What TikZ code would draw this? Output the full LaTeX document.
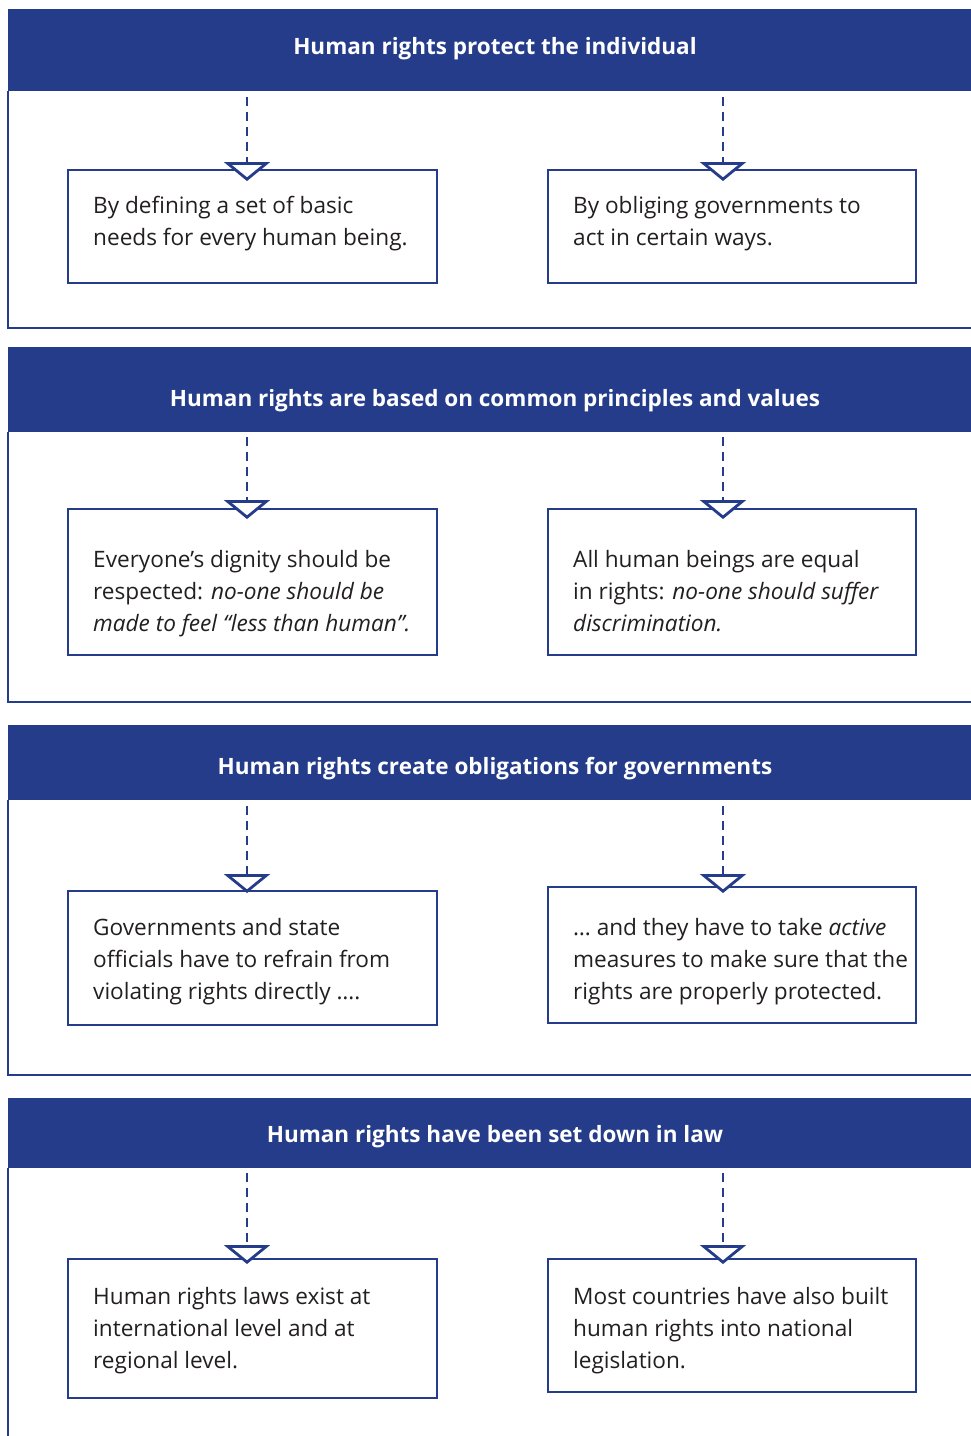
\documentclass[tikz,border=0pt]{standalone}
\usepackage{fontspec}
\setmainfont{Open Sans}
\usetikzlibrary{arrows.meta}
\definecolor{hrblue}{HTML}{243C8A}
\definecolor{ink}{HTML}{231F20}
\begin{document}
\begin{tikzpicture}[x=1pt,y=-1pt,
  bar/.style={fill=hrblue, draw=none, inner sep=0pt, outer sep=0pt, anchor=north west, minimum width=963pt},
  bartext/.style={text=white, font=\fontsize{22.5}{28}\selectfont\bfseries, anchor=base, inner sep=0pt},
  frame/.style={draw=hrblue, line width=2.8pt},
  box/.style={draw=hrblue, line width=2.8pt, fill=white, inner sep=0pt, outer sep=0pt, anchor=north west},
  txt/.style={text=ink, font=\fontsize{22.6}{32}\selectfont, align=left, anchor=base west, inner sep=0pt},
  conn/.style={draw=hrblue, line width=2.8pt, dash pattern=on 9pt off 6pt,
    -{Triangle[open, fill=white, length=19pt, width=46pt]}}]
\useasboundingbox (0,0) rectangle (971,1436);
\fill[white] (0,0) rectangle (971,1436);

% ---------- Section 1 ----------
\node[bar, minimum height=82pt] (h1) at (8,9) {};
\node[bartext] (h1t) at (495,54) {Human rights protect the individual};
\draw[frame] (8,91) -- (8,328) -- (971,328);
\node[box, minimum width=369pt, minimum height=113pt] (b11) at (68,170) {};
\node[box, minimum width=368pt, minimum height=113pt] (b12) at (548,170) {};
\node[txt] (t11) at (93,245) {By defining a set of basic\\needs for every human being.};
\node[txt] (t12) at (573,245) {By obliging governments to\\act in certain ways.};
\coordinate (s11) at (247,97); \coordinate (e11) at (247,181);
\coordinate (s12) at (723,97); \coordinate (e12) at (723,181);
\draw[conn] (s11) -- (e11);
\draw[conn] (s12) -- (e12);

% ---------- Section 2 ----------
\node[bar, minimum height=85pt] (h2) at (8,347) {};
\node[bartext] (h2t) at (495,406) {Human rights are based on common principles and values};
\draw[frame] (8,432) -- (8,702) -- (971,702);
\node[box, minimum width=369pt, minimum height=146pt] (b21) at (68,509) {};
\node[box, minimum width=368pt, minimum height=146pt] (b22) at (548,509) {};
\node[txt] (t21) at (93,631) {Everyone’s dignity should be\\respected: \textit{no-one should be}\\\textit{made to feel “less than human”.}};
\node[txt] (t22) at (573,631) {All human beings are equal\\in rights: \textit{no-one should suffer}\\\textit{discrimination.}};
\coordinate (s21) at (247,437); \coordinate (e21) at (247,519);
\coordinate (s22) at (723,437); \coordinate (e22) at (723,519);
\draw[conn] (s21) -- (e21);
\draw[conn] (s22) -- (e22);

% ---------- Section 3 ----------
\node[bar, minimum height=75pt] (h3) at (8,725) {};
\node[bartext] (h3t) at (495,774) {Human rights create obligations for governments};
\draw[frame] (8,800) -- (8,1075) -- (971,1075);
\node[box, minimum width=369pt, minimum height=134pt] (b31) at (68,891) {};
\node[box, minimum width=368pt, minimum height=136pt] (b32) at (548,887) {};
\node[txt] (t31) at (93,999) {Governments and state\\officials have to refrain from\\violating rights directly ….};
\node[txt] (t32) at (573,999) {… and they have to take \textit{active}\\measures to make sure that the\\rights are properly protected.};
\coordinate (s31) at (247,806); \coordinate (e31) at (247,893);
\coordinate (s32) at (723,806); \coordinate (e32) at (723,893);
\draw[conn] (s31) -- (e31);
\draw[conn] (s32) -- (e32);

% ---------- Section 4 ----------
\node[bar, minimum height=70pt] (h4) at (8,1098) {};
\node[bartext] (h4t) at (495,1142) {Human rights have been set down in law};
\draw[frame] (8,1168) -- (8,1436);
\node[box, minimum width=369pt, minimum height=139pt] (b41) at (68,1259) {};
\node[box, minimum width=368pt, minimum height=133pt] (b42) at (548,1259) {};
\node[txt] (t41) at (93,1368) {Human rights laws exist at\\international level and at\\regional level.};
\node[txt] (t42) at (573,1368) {Most countries have also built\\human rights into national\\legislation.};
\coordinate (s41) at (247,1173); \coordinate (e41) at (247,1264);
\coordinate (s42) at (723,1173); \coordinate (e42) at (723,1264);
\draw[conn] (s41) -- (e41);
\draw[conn] (s42) -- (e42);
\end{tikzpicture}
\end{document}
